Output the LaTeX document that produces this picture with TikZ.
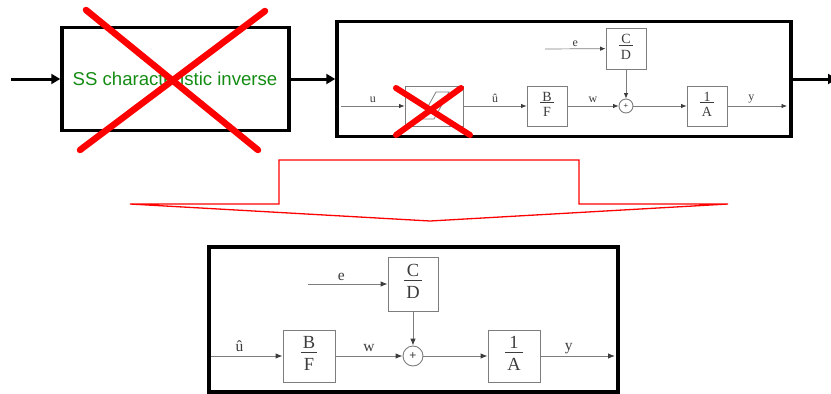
\documentclass[tikz,border=0pt]{standalone}
\usepackage{fontspec}
\setmainfont{Liberation Sans}
\newfontfamily\blkfont{Liberation Serif}
\usetikzlibrary{arrows.meta}

\definecolor{ssgreen}{RGB}{20,140,20}
\definecolor{linegray}{RGB}{125,125,125}
\definecolor{txtgray}{RGB}{60,60,60}

% transfer function as a stacked fraction
\newcommand{\blkfrac}[2]{\begin{tabular}{@{\hspace{2pt}}c@{\hspace{2pt}}}#1\\[-3pt]\hline\rule{0pt}{1.0em}#2\end{tabular}}

\tikzset{
  bigbox/.style={draw, line width=3.5pt, inner sep=0pt},
  flow/.style={line width=3pt, -{Triangle[length=9pt,width=10pt]}},
  blk/.style={draw=linegray, line width=0.9pt, inner sep=0pt, text=txtgray},
  sumpt/.style={circle, draw=linegray, line width=0.9pt, inner sep=0pt, text=txtgray},
  sig/.style={draw=linegray, line width=0.9pt, -{Latex[length=7pt,width=5.5pt,color=txtgray]}},
  sigs/.style={draw=linegray, line width=0.7pt, -{Latex[length=5.5pt,width=4.5pt,color=txtgray]}},
  lbl/.style={text=txtgray, font=\blkfont\fontsize{15.5}{15.5}\selectfont, inner sep=1pt},
  lbls/.style={text=txtgray, font=\blkfont\fontsize{12}{12}\selectfont, inner sep=1pt},
  cross/.style={red, line width=6.5pt, line cap=round}
}

\begin{document}
\begin{tikzpicture}[x=1pt,y=-1pt]
  \useasboundingbox (0,0) rectangle (831,394);

  % upper chain: inverse block and plant model
  \coordinate (in) at (11,79);
  \coordinate (out) at (837,79);
  \node[bigbox, minimum width=227pt, minimum height=103pt] (inv) at (175.5,79) {};
  \node[text=ssgreen, font=\fontsize{18.6}{20}\selectfont] (invtxt) at (175,79) {SS characteristic inverse};
  \node[bigbox, minimum width=454pt, minimum height=115pt] (plant) at (564,79) {};

  \draw[flow] (in) -- (inv);
  \draw[flow] (inv) -- (plant);
  \draw[flow] (plant) -- (out);

  % small model inside the plant box
  \coordinate (uin) at (341,106);
  \coordinate (ein) at (545,49);
  \coordinate (yout) at (787,106);
  \node[blk, minimum width=58pt, minimum height=40pt] (sat) at (434,106) {};
  \node[blk, minimum width=40pt, minimum height=40pt, font=\blkfont\fontsize{14}{14}\selectfont] (bfa) at (547,106) {\blkfrac{B}{F}};
  \node[blk, minimum width=40pt, minimum height=41pt, font=\blkfont\fontsize{14}{14}\selectfont] (cda) at (626,48.5) {\blkfrac{C}{D}};
  \node[sumpt, minimum size=14pt, font=\fontsize{8}{8}\selectfont] (suma) at (626,106) {+};
  \node[blk, minimum width=40pt, minimum height=40pt, font=\blkfont\fontsize{14}{14}\selectfont] (iaa) at (707,106) {\blkfrac{1}{A}};

  \draw[linegray, line width=0.8pt] (421,119) -- (434,119) -- (449,92) -- (436,92) -- cycle;

  \draw[sigs] (uin) -- node[lbls, above=2pt] {u} (sat);
  \draw[sigs] (sat) -- node[lbls, above=2pt] {û} (bfa);
  \draw[sigs] (bfa) -- node[lbls, above=2pt] {w} (suma);
  \draw[sigs] (ein) -- node[lbls, above=1pt] {e} (cda);
  \draw[sigs] (cda) -- (suma);
  \draw[sigs] (suma) -- (iaa);
  \draw[sigs] (iaa) -- node[lbls, above=2pt, pos=0.4] {y} (yout);

  % crossed out parts
  \draw[cross] (86,10) -- (258,150);
  \draw[cross] (265,11) -- (80,150);
  \draw[cross, line width=6pt] (396,88) -- (470,135);
  \draw[cross, line width=6pt] (461,88) -- (396,135);

  % big outlined arrow down
  \draw[red, line width=1.3pt, line join=miter]
    (130,204) -- (279,204) -- (279,160) -- (579,160) -- (579,204) -- (728,204) -- (430,221) -- cycle;

  % lower chain: the model that is kept
  \node[bigbox, minimum width=409pt, minimum height=145pt] (model) at (413.5,319.5) {};
  \coordinate (uhat) at (211,356);
  \coordinate (e) at (308,284);
  \coordinate (y) at (615,356);
  \node[blk, minimum width=52pt, minimum height=52pt, font=\blkfont\fontsize{18.5}{18.5}\selectfont] (bf) at (309,356) {\blkfrac{B}{F}};
  \node[blk, minimum width=50pt, minimum height=54pt, font=\blkfont\fontsize{18.5}{18.5}\selectfont] (cd) at (413,284) {\blkfrac{C}{D}};
  \node[sumpt, minimum size=20pt, font=\fontsize{12}{12}\selectfont] (sum) at (413,356) {+};
  \node[blk, minimum width=52pt, minimum height=52pt, font=\blkfont\fontsize{18.5}{18.5}\selectfont] (ia) at (514,356) {\blkfrac{1}{A}};

  \draw[sig] (uhat) -- node[lbl, above=3pt, pos=0.4] {û} (bf);
  \draw[sig] (bf) -- node[lbl, above=3pt] {w} (sum);
  \draw[sig] (e) -- node[lbl, above=2pt, pos=0.42] {e} (cd);
  \draw[sig] (cd) -- (sum);
  \draw[sig] (sum) -- (ia);
  \draw[sig] (ia) -- node[lbl, above=1pt, pos=0.38] {y} (y);
\end{tikzpicture}
\end{document}
